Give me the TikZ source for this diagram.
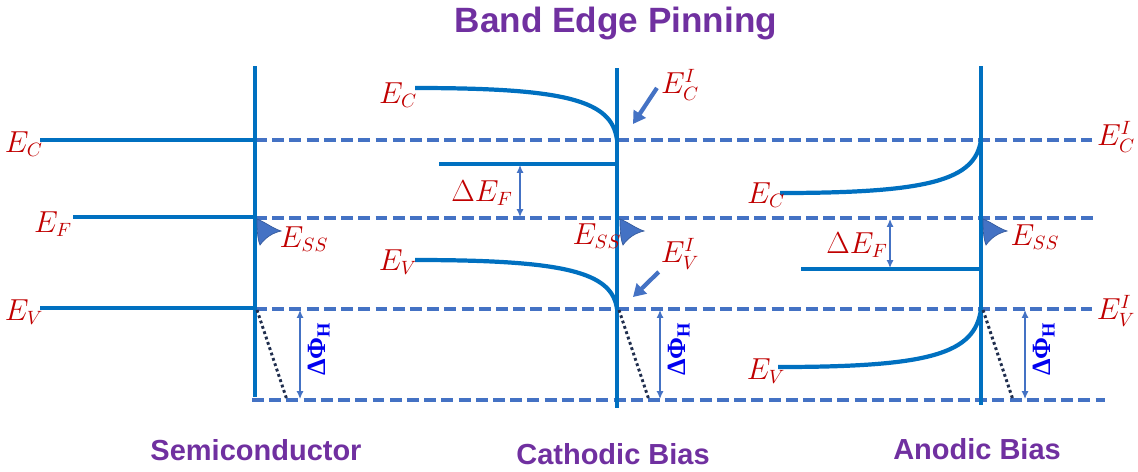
\documentclass[tikz,border=0pt]{standalone}
\usepackage{amsmath, amssymb}
\usepackage{fontspec}
\newfontfamily\headfont{Liberation Sans}
\newfontfamily\phifont{Liberation Serif}
\usepackage{tikz}
\usetikzlibrary{arrows.meta, positioning, calc}
\definecolor{bandblue}{HTML}{0070C0}
\definecolor{pinblue}{HTML}{4472C4}
\definecolor{lblred}{HTML}{C00000}
\definecolor{headpurple}{HTML}{7030A0}
\definecolor{navy}{HTML}{1F2D4D}
\definecolor{phiblue}{HTML}{0000F0}
\tikzset{
    band/.style={line width=2.4pt, bandblue},
    pinline/.style={line width=1.9pt, pinblue, dash pattern=on 6.8pt off 3pt},
    slope/.style={line width=1.7pt, navy, dash pattern=on 1.6pt off 1.6pt},
    gap/.style={{Latex[length=4.5pt,width=4pt]}-{Latex[length=4.5pt,width=4pt]}, line width=0.7pt, pinblue},
    pointer/.style={-{Triangle[length=7pt,width=8pt]}, line width=2.4pt, pinblue},
    lbl/.style={text=lblred, font=\fontsize{16}{19}\selectfont, inner sep=1pt},
    head/.style={text=headpurple, font=\headfont\bfseries\fontsize{20}{24}\selectfont, anchor=base},
    panel/.style={head, font=\headfont\bfseries\fontsize{16.5}{20}\selectfont},
    phi/.style={text=phiblue, font=\phifont\bfseries\fontsize{15}{18}\selectfont, rotate=90, inner sep=1pt},
    blob/.style={fill=pinblue, draw=pinblue!80!black, line width=0.4pt}
}
\begin{document}
\begin{tikzpicture}[x=0.02cm, y=-0.02cm]
        \useasboundingbox (0,0) rectangle (1138,471);
        % pinned levels
        \draw[pinline] (255,140) -- (1092,140);
        \draw[pinline] (255,218) -- (1098,218);
        \draw[pinline] (255,309) -- (1092,309);
        \draw[pinline] (252,400) -- (1105,400);
        % semiconductor
        \draw[band] (40,140) -- (255,140);
        \draw[band] (73,217) -- (255,217);
        \draw[band] (40,308) -- (255,308);
        \draw[band] (255,66) -- (255,397);
        % cathodic bias
        \draw[band] (415,88) .. controls (565,88) and (612,100) .. (617,140);
        \draw[band] (415,260) .. controls (565,260) and (612,272) .. (617,309);
        \draw[band] (439,164) -- (617,164);
        \draw[band] (617,68) -- (617,408);
        % anodic bias
        \draw[band] (780,193) .. controls (930,193) and (975,180) .. (981,140);
        \draw[band] (778,367) .. controls (930,367) and (975,354) .. (981,309);
        \draw[band] (801,269) -- (981,269);
        \draw[band] (981,66) -- (981,405);
        % surface states
        \foreach \x in {257, 620, 983}
            \draw[blob] (\x,219) .. controls (\x+8,222) and (\x+15,228) .. (\x+24,231)
                .. controls (\x+15,233) and (\x+8,238) .. (\x+3,245)
                .. controls (\x,238) and (\x,226) .. cycle;
        % Helmholtz drop
        \foreach \x/\g in {257/300, 619/660, 983/1025} {
            \draw[slope] (\x,310) -- (\x+30,400);
            \draw[gap] (\g,310) -- (\g,399);
            \node[phi] (dphi\x) at (\g+19,349) {ΔΦ\textsubscript{H}};
        }
        % Fermi level shifts
        \draw[gap] (520,165) -- (520,217);
        \draw[gap] (890,219) -- (890,268);
        % labels
        \node[lbl] (sEC) at (24,144) {$E_C$};
        \node[lbl] (sEF) at (53,224) {$E_F$};
        \node[lbl] (sEV) at (24,312) {$E_V$};
        \node[lbl] (sESS) at (304,239) {$E_{SS}$};
        \node[lbl] (cEC) at (398,95) {$E_C$};
        \node[lbl] (cEV) at (398,262) {$E_V$};
        \node[lbl] (cdEF) at (482,193) {$\Delta E_F$};
        \node[lbl] (cESS) at (597,236) {$E_{SS}$};
        \node[lbl] (cECi) at (680,85) {$E^{I}_{C}$};
        \node[lbl] (cEVi) at (680,254) {$E^{I}_{V}$};
        \node[lbl] (aEC) at (766,195) {$E_C$};
        \node[lbl] (aEV) at (766,371) {$E_V$};
        \node[lbl] (adEF) at (857,245) {$\Delta E_F$};
        \node[lbl] (aESS) at (1035,237) {$E_{SS}$};
        \node[lbl] (aECi) at (1116,137) {$E^{I}_{C}$};
        \node[lbl] (aEVi) at (1116,311) {$E^{I}_{V}$};
        \coordinate (cECtip) at (633,124);
        \coordinate (cEVtip) at (633,297);
        \draw[pointer, shorten <=2pt] (cECi.west) -- (cECtip);
        \draw[pointer] (cEVi.south west) -- (cEVtip);
        % titles
        \node[head] (title) at (616,32) {Band Edge Pinning};
        \node[panel] (semi) at (256,460) {Semiconductor};
        \node[panel] (cath) at (613,464) {Cathodic Bias};
        \node[panel] (anod) at (977,459) {Anodic Bias};
    \end{tikzpicture}
\end{document}
